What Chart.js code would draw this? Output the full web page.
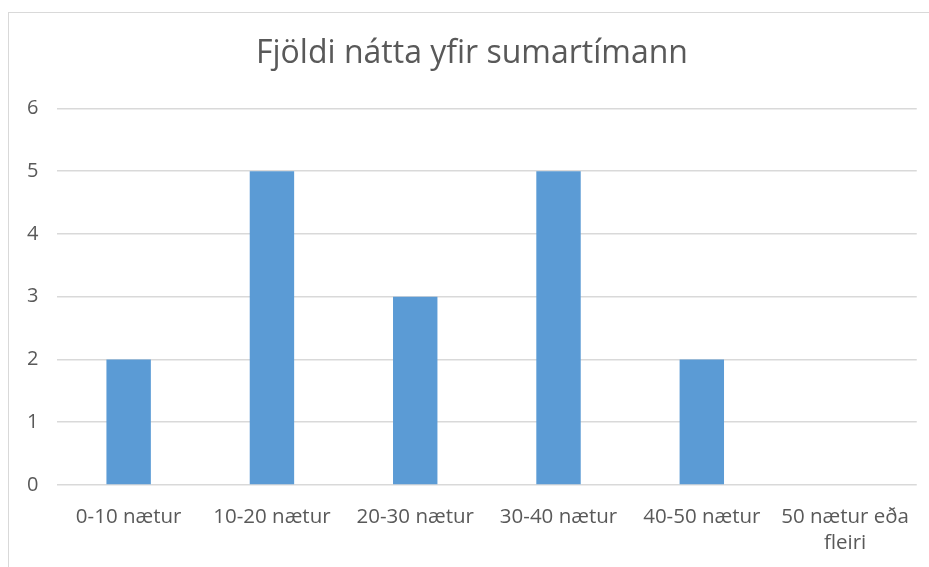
<!DOCTYPE html>
<html>
<head>
<meta charset="utf-8">
<script src="https://cdn.jsdelivr.net/npm/chart.js@4"></script>
<style>
  html, body { margin: 0; padding: 0; background: #fff; }
  #wrap { position: relative; width: 929px; height: 567px; overflow: hidden; }
  #frame { position: absolute; left: 8px; top: 12px; width: 960px; height: 600px;
           border: 1px solid #d9d9d9; box-sizing: border-box; }
  #nights { position: absolute; left: 0; top: 0; }
</style>
</head>
<body>
<div id="wrap">
  <div id="frame"></div>
  <canvas id="nights" width="929" height="567"></canvas>
</div>
<script>
const categories = ['0-10 nætur', '10-20 nætur', '20-30 nætur', '30-40 nætur', '40-50 nætur', ['50 nætur eða', 'fleiri']];
const values = [2, 5, 3, 5, 2, 0];
const chartTitle = 'Fjöldi nátta yfir sumartímann';

const textColor = '#595959';
const gridColor = '#d9d9d9';
const fontFamily = '"Open Sans", Lato, sans-serif';

new Chart(document.getElementById('nights'), {
  type: 'bar',
  data: {
    labels: categories,
    datasets: [{
      data: values,
      backgroundColor: '#5b9bd5',
      borderWidth: 0,
      barPercentage: 0.31,
      categoryPercentage: 1
    }]
  },
  options: {
    responsive: false,
    animation: false,
    // left padding pushes the title centre right, like in the original
    layout: { padding: { left: 27, right: 12, top: 0, bottom: 0 } },
    plugins: {
      legend: { display: false },
      tooltip: { enabled: false },
      title: {
        display: true,
        text: chartTitle,
        color: textColor,
        font: { family: fontFamily, size: 32, weight: 'normal', lineHeight: 1.2 },
        padding: { top: 35, bottom: 35 }
      }
    },
    scales: {
      x: {
        // keep the axis band fixed so the plot ends where the reference does
        afterFit: (scale) => { scale.height = 82; },
        grid: { display: false, drawTicks: false },
        border: { display: false },
        ticks: {
          color: textColor,
          font: { family: fontFamily, size: 20.5, lineHeight: 1.27 },
          padding: 19,
          maxRotation: 0,
          autoSkip: false
        }
      },
      y: {
        min: 0,
        max: 6,
        afterFit: (scale) => { scale.width = 30; },
        grid: { color: gridColor, lineWidth: 1.5, drawTicks: false },
        border: { display: false },
        ticks: {
          stepSize: 1,
          color: textColor,
          font: { family: fontFamily, size: 20 },
          crossAlign: 'far',
          padding: 0
        }
      }
    }
  }
});
</script>
</body>
</html>
